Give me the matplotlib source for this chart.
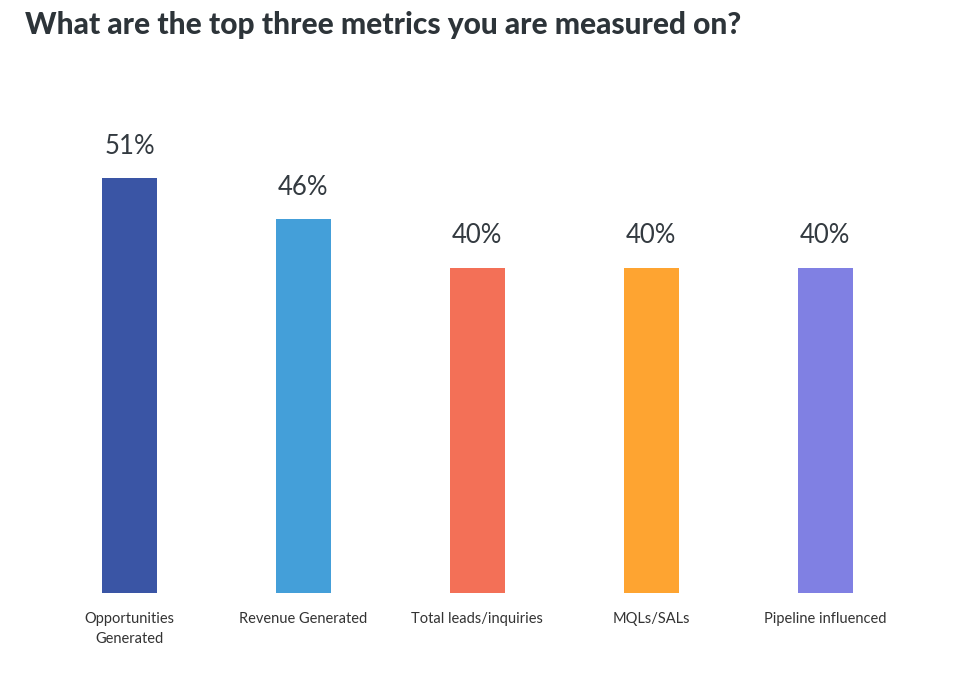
import matplotlib.pyplot as plt

categories = ['Opportunities\nGenerated', 'Revenue Generated', 'Total leads/inquiries',
              'MQLs/SALs', 'Pipeline influenced']
values = [51, 46, 40, 40, 40]
colors = ['#3A55A5', '#449FD9', '#F37057', '#FEA431', '#8080E3']

plt.rcParams['font.family'] = ['Lato', 'DejaVu Sans']

fig = plt.figure(figsize=(9.76, 6.86), dpi=100)
ax = fig.add_axes([0.0435, 0.1356, 0.891, 0.711])

x = range(len(categories))
ax.bar(x, values, width=0.316, color=colors)
for i, v in enumerate(values):
    ax.text(i, v + 2.4, f'{v}%', ha='center', va='bottom', fontsize=18.5,
            fontweight='normal', color='#333a40')

ax.set_xlim(-0.5, len(categories) - 0.5)
ax.set_ylim(0, 60)
ax.set_xticks(list(x))
ax.set_xticklabels(categories, fontsize=10.5, color='#333333', linespacing=1.5)
ax.tick_params(axis='x', length=0, pad=14)
ax.set_yticks([])
for s in ax.spines.values():
    s.set_visible(False)

fig.text(0.026, 0.963, 'What are the top three metrics you are measured on?',
         fontsize=21.5, fontweight='black', color='#2d3439', va='center', ha='left')

plt.savefig('out.png', dpi=100)
